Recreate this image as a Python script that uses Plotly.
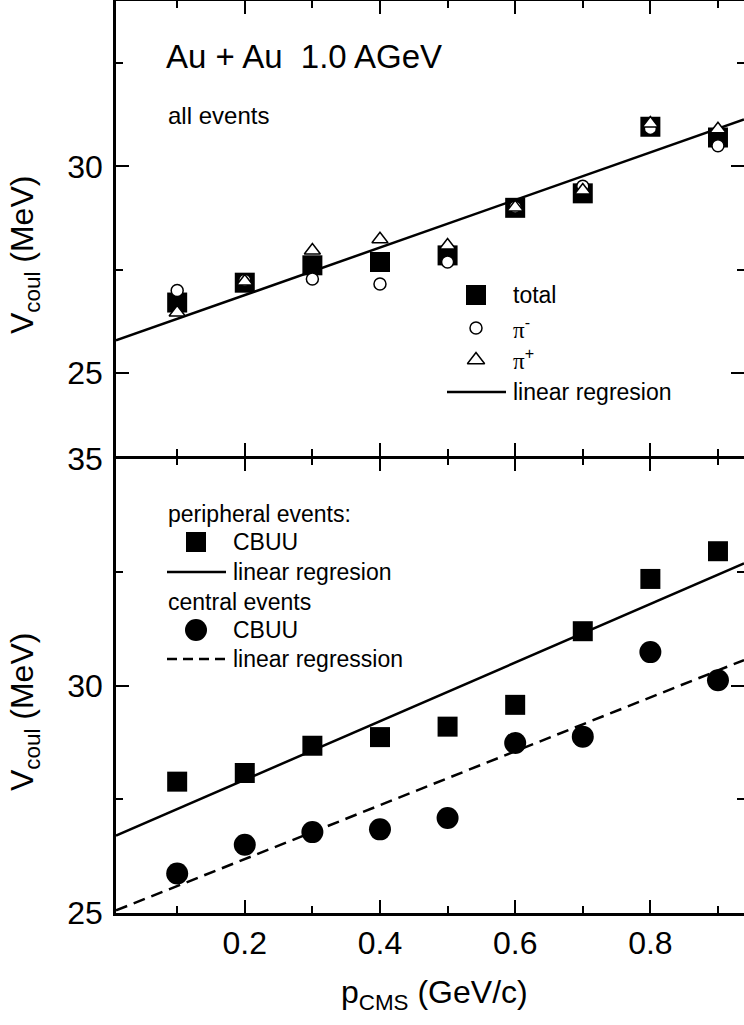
import plotly.graph_objects as go

# ---------------- data ----------------
p_cms = [0.1, 0.2, 0.3, 0.4, 0.5, 0.6, 0.7, 0.8, 0.9]

# top panel: all events
vc_total = [26.71, 27.19, 27.61, 27.69, 27.85, 29.00, 29.35, 30.96, 30.70]
vc_pim   = [27.00, 27.25, 27.28, 27.16, 27.69, 29.02, 29.52, 30.92, 30.50]
vc_pip   = [26.47, 27.22, 27.97, 28.24, 28.09, 29.01, 29.42, 31.04, 30.90]
reg_all  = [25.74, 5.75]          # intercept, slope

# bottom panel: CBUU
vc_periph  = [27.89, 28.08, 28.68, 28.87, 29.10, 29.58, 31.20, 32.35, 32.96]
vc_central = [25.87, 26.50, 26.78, 26.84, 27.09, 28.74, 28.88, 30.74, 30.12]
reg_periph  = [26.64, 6.45]
reg_central = [25.00, 5.93]

x_range = [0.0095, 0.9385]
x_ticks = [0.2, 0.4, 0.6, 0.8]
x_ticklabels = ["0.2", "0.4", "0.6", "0.8"]

PI = '<span style="font-family:Liberation Serif, Times New Roman, serif">\u03c0</span>'
legend_top = ["total", PI + "<sup>-</sup>", PI + "<sup>+</sup>", "linear regresion"]
legend_bot = ["peripheral events:", "CBUU", "linear regresion",
              "central events", "CBUU", "linear regression"]

# ---------------- geometry helpers ----------------
W, H = 744, 1025
L, R, T, B = 116, 0, 1, 112
PW, PH = W - L - R, H - T - B

def pxx(x):
    return (x - L) / PW

def pxy(y):
    return (T + PH - y) / PH

FONT = "Liberation Sans, Arial, Helvetica, sans-serif"
LW = 2.5

def line_y(coef, xs):
    return [coef[0] + coef[1] * x for x in xs]

fig = go.Figure()

sq = dict(symbol="square", size=20, color="black")
circ_open = dict(symbol="circle", size=12, color="white", line=dict(color="black", width=1.5))
tri_open = dict(symbol="triangle-up", size=14, color="white", line=dict(color="black", width=1.5))
circ_fill = dict(symbol="circle", size=22, color="black")

# top panel
fig.add_trace(go.Scatter(x=x_range, y=line_y(reg_all, x_range), mode="lines",
                         line=dict(color="black", width=2.5), xaxis="x2", yaxis="y2"))
fig.add_trace(go.Scatter(x=p_cms, y=vc_total, mode="markers", marker=sq, xaxis="x2", yaxis="y2"))
fig.add_trace(go.Scatter(x=p_cms, y=vc_pim, mode="markers", marker=circ_open, xaxis="x2", yaxis="y2"))
fig.add_trace(go.Scatter(x=p_cms, y=vc_pip, mode="markers", marker=tri_open, xaxis="x2", yaxis="y2"))

# bottom panel
fig.add_trace(go.Scatter(x=x_range, y=line_y(reg_periph, x_range), mode="lines",
                         line=dict(color="black", width=2.5), xaxis="x", yaxis="y"))
fig.add_trace(go.Scatter(x=x_range, y=line_y(reg_central, x_range), mode="lines",
                         line=dict(color="black", width=2.5, dash="12px,7px"), xaxis="x", yaxis="y"))
fig.add_trace(go.Scatter(x=p_cms, y=vc_periph, mode="markers", marker=sq, xaxis="x", yaxis="y"))
fig.add_trace(go.Scatter(x=p_cms, y=vc_central, mode="markers", marker=circ_fill, xaxis="x", yaxis="y"))

# legend symbols on a pixel overlay axis
fig.add_trace(go.Scatter(x=[476], y=[295], mode="markers", marker=sq, xaxis="x3", yaxis="y3"))
fig.add_trace(go.Scatter(x=[476], y=[328], mode="markers", marker=circ_open, xaxis="x3", yaxis="y3"))
fig.add_trace(go.Scatter(x=[476], y=[360], mode="markers",
                         marker=dict(tri_open, size=15), xaxis="x3", yaxis="y3"))
fig.add_trace(go.Scatter(x=[447, 506], y=[392, 392], mode="lines",
                         line=dict(color="black", width=2.5), xaxis="x3", yaxis="y3"))
fig.add_trace(go.Scatter(x=[196], y=[542], mode="markers", marker=sq, xaxis="x3", yaxis="y3"))
fig.add_trace(go.Scatter(x=[167, 226], y=[572, 572], mode="lines",
                         line=dict(color="black", width=2.5), xaxis="x3", yaxis="y3"))
fig.add_trace(go.Scatter(x=[196], y=[630], mode="markers", marker=circ_fill, xaxis="x3", yaxis="y3"))
fig.add_trace(go.Scatter(x=[167, 225], y=[659, 659], mode="lines",
                         line=dict(color="black", width=2.5, dash="10px,6px"), xaxis="x3", yaxis="y3"))

axis_common = dict(showline=True, linewidth=LW, linecolor="black", mirror="ticks",
                   ticks="inside", ticklen=13, tickwidth=2, tickcolor="black",
                   showgrid=False, zeroline=False, automargin=False,
                   tickfont=dict(family=FONT, size=32, color="black"))
minor_common = dict(ticks="inside", ticklen=7, tickwidth=2, tickcolor="black", showgrid=False)

# panel junction: leave a gap of one line width so both axis lines coincide
top_bottom_edge = pxy(456)
bot_top_edge = pxy(456 + LW)

fig.update_layout(
    width=W, height=H, margin=dict(l=L, r=R, t=T, b=B, autoexpand=False),
    paper_bgcolor="white", plot_bgcolor="rgba(0,0,0,0)", showlegend=False,
    font=dict(family=FONT, color="black"),
    xaxis=dict(**axis_common, domain=[0, 1], anchor="y", range=x_range,
               tickmode="array", tickvals=x_ticks, ticktext=x_ticklabels,
               minor=dict(dtick=0.1, tick0=0, **minor_common)),
    xaxis2=dict(**axis_common, domain=[0, 1], anchor="y2", range=x_range, matches="x",
                tickmode="array", tickvals=x_ticks, showticklabels=False,
                minor=dict(dtick=0.1, tick0=0, **minor_common)),
    yaxis=dict(**axis_common, domain=[0, bot_top_edge], anchor="x", range=[25, 35],
               dtick=5, tick0=0, ticklabelstandoff=4,
               minor=dict(dtick=2.5, tick0=0, **minor_common)),
    yaxis2=dict(**axis_common, domain=[top_bottom_edge, 1], anchor="x2", range=[23, 34],
                dtick=5, tick0=0, ticklabelstandoff=4,
                minor=dict(dtick=2.5, tick0=0, **minor_common)),
    xaxis3=dict(domain=[0, 1], anchor="y3", range=[L, W - R], visible=False,
                fixedrange=True, automargin=False),
    yaxis3=dict(domain=[0, 1], anchor="x3", range=[T + PH, T], visible=False,
                fixedrange=True, automargin=False),
)

def txt(x, y, s, size, anchor="left", angle=0):
    fig.add_annotation(x=pxx(x), y=pxy(y), xref="paper", yref="paper", text=s,
                       showarrow=False, xanchor=anchor, yanchor="middle", textangle=angle,
                       font=dict(family=FONT, size=size, color="black"))

txt(164, 56, "Au + Au\u00a0\u00a01.0 AGeV", 33)
txt(166, 115, "all events", 24)
legend_top_y = [295, 328, 359, 392]
for s, y in zip(legend_top, legend_top_y):
    txt(511, y, s, 23)
legend_bot_pos = [(166, 514), (231, 542), (231, 572), (166, 602), (231, 630), (231, 659)]
for s, (x, y) in zip(legend_bot, legend_bot_pos):
    txt(x, y, s, 23)

txt(24, 255, "V<sub>coul</sub> (MeV)", 32, anchor="center", angle=-90)
txt(24, 712, "V<sub>coul</sub> (MeV)", 32, anchor="center", angle=-90)
txt(434, 995, "p<sub>CMS</sub> (GeV/c)", 32, anchor="center")

fig.write_html("out.html", config={"displayModeBar": False},
               post_script="document.body.style.margin='0px';document.body.style.overflow='hidden';")
